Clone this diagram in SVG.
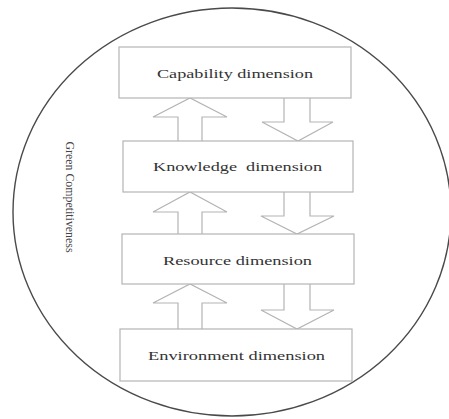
<svg xmlns="http://www.w3.org/2000/svg" width="449" height="419" viewBox="0 0 449 419">
<style>
.box{fill:#fff;stroke:#b4b4b4;stroke-width:1.2}
.arr{fill:#fff;stroke:#b4b4b4;stroke-width:1.2;stroke-linejoin:miter}
.lbl{font-family:"Liberation Serif","Times New Roman",serif;font-size:13.5px;fill:#333;text-anchor:middle}
.side{font-family:"Liberation Serif","Times New Roman",serif;font-size:12px;fill:#444;text-anchor:middle}
</style>
<rect width="449" height="419" fill="#fff"/>
<g id="boundary">
<ellipse cx="232" cy="212" rx="219" ry="204" fill="none" stroke="#4a4a4a" stroke-width="1.4"/>
<text class="side" transform="translate(66,197) rotate(90)" textLength="111" lengthAdjust="spacingAndGlyphs">Green Competitiveness</text>
</g>
<g id="connectors">
<polyline class="arr" points="178,141 178,117 153,117 190,98 227,117 202,117 202,141"/>
<polyline class="arr" points="284,98 284,122 262,122 298,141 333,122 310,122 310,98"/>
<polyline class="arr" points="178,234 178,212 153,212 190,192 227,212 202,212 202,234"/>
<polyline class="arr" points="284,192 284,216 261,216 297,234 334,216 310,216 310,192"/>
<polyline class="arr" points="178,329 178,303 153,303 190,284 227,303 202,303 202,329"/>
<polyline class="arr" points="284,284 284,310 261,310 297,329 334,310 310,310 310,284"/>
</g>
<g id="capability">
<rect class="box" x="119" y="47" width="232" height="51"/>
<text class="lbl" x="235" y="77.5" textLength="156" lengthAdjust="spacingAndGlyphs">Capability dimension</text>
</g>
<g id="knowledge">
<rect class="box" x="123" y="141" width="230" height="51"/>
<text class="lbl" x="237.5" y="170.5" textLength="169" lengthAdjust="spacingAndGlyphs" xml:space="preserve">Knowledge  dimension</text>
</g>
<g id="resource">
<rect class="box" x="122" y="234" width="232" height="50"/>
<text class="lbl" x="237.5" y="265" textLength="149" lengthAdjust="spacingAndGlyphs">Resource dimension</text>
</g>
<g id="environment">
<rect class="box" x="120" y="329" width="232" height="52"/>
<text class="lbl" x="236.5" y="360" textLength="177" lengthAdjust="spacingAndGlyphs">Environment dimension</text>
</g>
</svg>
